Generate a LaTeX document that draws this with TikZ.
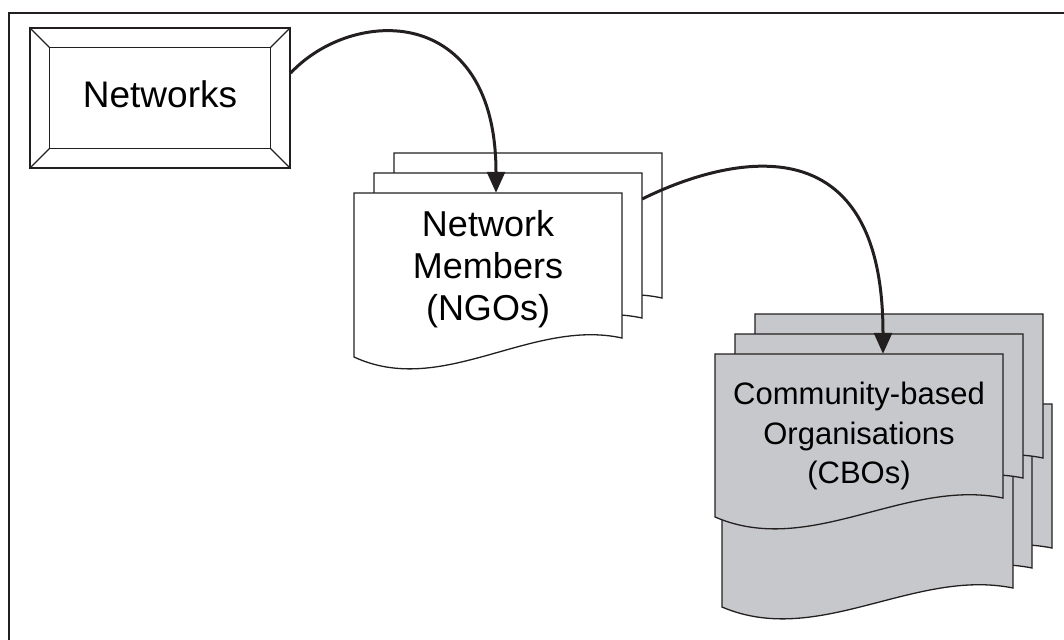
\documentclass[tikz,border=0pt]{standalone}
\usepackage{fontspec}
\setmainfont{Liberation Sans}
\usetikzlibrary{arrows.meta}
\definecolor{ink}{RGB}{35,31,32}
\definecolor{cbogray}{RGB}{199,200,203}
\tikzset{
  frame/.style={draw=ink, line width=1.8pt},
  bevel/.style={draw=ink, line width=1.3pt},
  netbox/.style={bevel, minimum width=260pt, minimum height=140pt, inner sep=0pt,
    font=\fontsize{37}{40}\selectfont, text depth=8pt},
  page/.style={draw=ink, line width=1.3pt, fill=white},
  cbopage/.style={page, fill=cbogray},
  stacktext/.style={align=center, inner sep=0pt},
  link/.style={draw=ink, line width=3pt, -{Triangle[length=21pt,width=18pt]}},
}
% one sheet of a stack: style, left, top, right, height
\newcommand\sheet[5]{%
  \filldraw[#1] (#2,#3) -- (#4,#3) -- (#4,{#3+#5})
    .. controls ({#2+0.66*(#4-#2)},{#3+#5-20}) and ({#2+0.33*(#4-#2)},{#3+#5+60}) .. (#2,{#3+#5+19}) -- cycle;}
\begin{document}
\begin{tikzpicture}[x=1pt,y=-1pt]
  \useasboundingbox (0,0) rectangle (1064,639);
  \draw[frame] (9,645) -- (9,13) -- (1070,13);

  % networks
  \node[netbox] (net) at (160,98) {Networks};
  \draw[bevel] ([shift={(20pt,-20pt)}]net.north west) rectangle ([shift={(-20pt,20pt)}]net.south east);
  \foreach \corner/\dx/\dy in {north west/20/-20, north east/-20/-20, south east/-20/20, south west/20/20}
    \draw[bevel] (net.\corner) -- ([shift={(\dx pt,\dy pt)}]net.\corner);

  % network members
  \sheet{page}{394}{153}{662}{145}
  \sheet{page}{374}{173}{642}{145}
  \sheet{page}{354}{193}{622}{145}
  \node[stacktext, font=\fontsize{36}{42}\selectfont, minimum width=268pt, minimum height=152pt]
    (ngo) at (488,269) {Network\\Members\\(NGOs)};

  % community-based organisations
  \sheet{cbopage}{762}{404}{1052}{144}
  \sheet{cbopage}{742}{424}{1032}{144}
  \sheet{cbopage}{722}{444}{1013}{144}
  \sheet{cbopage}{755}{314}{1043}{144}
  \sheet{cbopage}{735}{334}{1023}{144}
  \sheet{cbopage}{715}{354}{1003}{144}
  \node[stacktext, font=\fontsize{31}{39.5}\selectfont, minimum width=288pt, minimum height=164pt]
    (cbo) at (859,436) {Community-based\\Organisations\\(CBOs)};

  \draw[link] ([yshift=25pt]net.east) .. controls +(62,-66) and +(0,-190) .. ([xshift=8pt]ngo.north);
  \draw[link] ([shift={(20pt,70pt)}]ngo.east) .. controls +(58,-29) and +(0,-254) .. ([xshift=24pt]cbo.north);
\end{tikzpicture}
\end{document}
